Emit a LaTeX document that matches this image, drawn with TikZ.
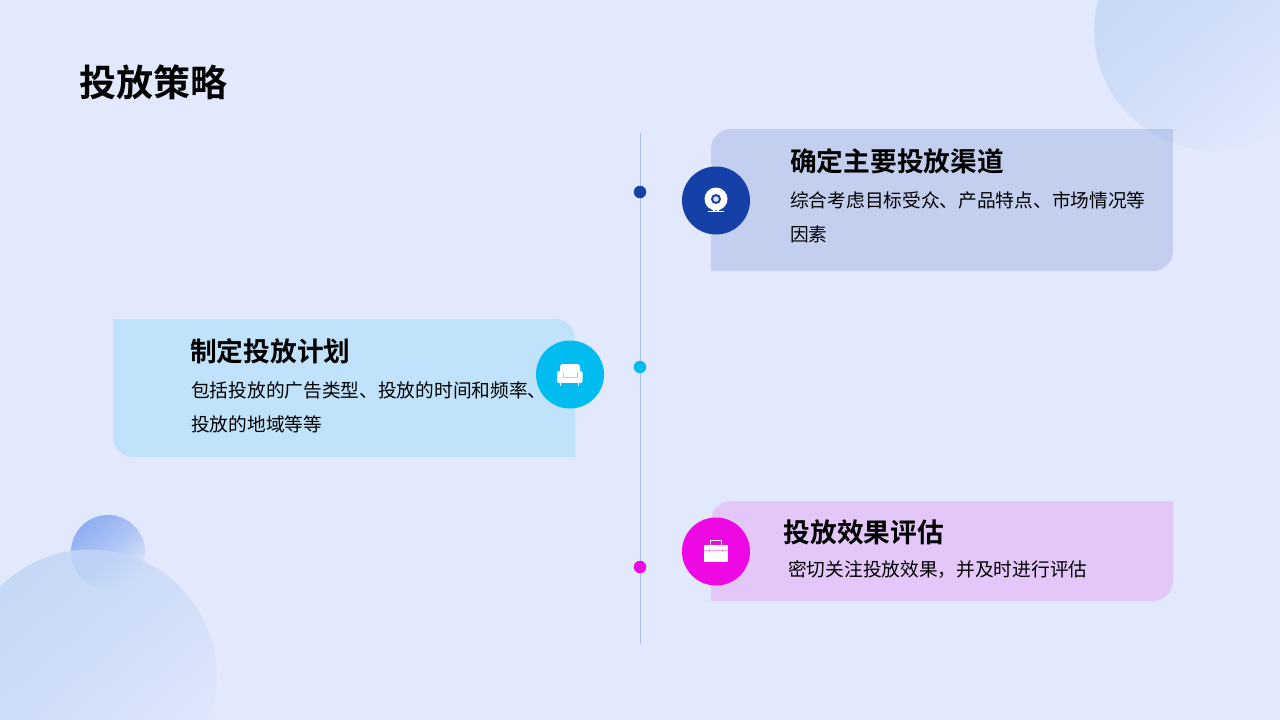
\documentclass[tikz,border=0pt]{standalone}
\usepackage{fontspec}
\setmainfont{Noto Sans CJK SC}[BoldFont={Noto Sans CJK SC Bold}]
\usetikzlibrary{fadings}
\definecolor{bgc}{HTML}{E2E9FC}
\definecolor{blobc}{HTML}{C2D6F6}
\definecolor{smallc}{HTML}{86A8F0}
\definecolor{linec}{HTML}{A9BEEC}
\definecolor{bluec}{HTML}{1540A8}
\definecolor{cyanc}{HTML}{00BCF0}
\definecolor{magc}{HTML}{EE08E4}
\tikzfading[name=diagfade, top color=transparent!10, bottom color=transparent!100, middle color=transparent!45]
\tikzset{
 x=1pt,y=-1pt,
 blob/.style={fill=#1,path fading=diagfade,fit fading=true,fading angle=40},
 card/.style={fill=#1,fill opacity=.15},
 badge/.style={circle,fill=#1,minimum size=68pt,inner sep=0pt,draw=none},
 dotn/.style={circle,fill=#1,minimum size=12.5pt,inner sep=0pt,draw=none},
 titletext/.style={anchor=west,inner sep=0pt,font=\fontsize{37}{37}\selectfont\bfseries,text=black},
 headtext/.style={anchor=west,inner sep=0pt,font=\fontsize{26.7}{26.7}\selectfont\bfseries,text=black},
 bodytext/.style={anchor=west,inner sep=0pt,font=\fontsize{18.7}{18.7}\selectfont,text=black},
}
\begin{document}
\begin{tikzpicture}
\useasboundingbox (0,0) rectangle (1280,720);
\fill[bgc] (0,0) rectangle (1280,720);
% background blobs
\begin{scope}
\clip (0,0) rectangle (1280,720);
\fill[blob=blobc] (1214,30) circle (120);
\fill[blob=smallc] (108,552) circle (37);
\fill[blob=blobc] (90,676) circle (127);
\end{scope}
% cards
\fill[card=bluec] (711,271) -- (711,149) .. controls (711,138) and (720,129) .. (731,129) -- (1173,129) -- (1173,251) .. controls (1173,262) and (1164,271) .. (1153,271) -- cycle;
\fill[card=cyanc] (113,319) -- (555,319) .. controls (566,319) and (575,328) .. (575,339) -- (575,457) -- (133,457) .. controls (122,457) and (113,448) .. (113,437) -- cycle;
\fill[card=magc] (711,601) -- (711,521) .. controls (711,510) and (720,501) .. (731,501) -- (1173,501) -- (1173,581) .. controls (1173,592) and (1164,601) .. (1153,601) -- cycle;
% timeline
\coordinate (lineA) at (640.5,133);
\coordinate (lineB) at (640.5,644);
\draw[linec,line width=1pt] (lineA) -- (lineB);
\node[dotn=bluec] (dotA) at (640,192) {};
\node[dotn=cyanc] (dotB) at (640,367) {};
\node[dotn=magc] (dotC) at (640,567) {};
% badges
\node[badge=bluec] (badgeA) at (716,200.5) {};
\node[badge=cyanc] (badgeB) at (570,374.5) {};
\node[badge=magc] (badgeC) at (716,551.5) {};
% webcam icon
\fill[white] (716,199) circle (11.5);
\fill[bluec] (716,199) circle (5);
\fill[white!85!bluec] (716,199) circle (2.8);
\fill[white] (713,209) rectangle (715,212);
\fill[white] (717,209) rectangle (719,212);
\fill[white] (708,211.2) rectangle (724,212.4);
% sofa icon
\fill[white,rounded corners=2.5] (560,364) rectangle (580,378);
\fill[white,rounded corners=2] (557,371) rectangle (563,383);
\fill[white,rounded corners=2] (577,371) rectangle (582.5,383);
\fill[white] (558,377) rectangle (582,383);
\draw[cyanc!45!white,line width=.8pt] (563,372) -- (563,377) -- (577,377) -- (577,372);
\fill[white] (560,383) rectangle (561,385.5);
\fill[white] (578,383) rectangle (579,385.5);
% briefcase icon
\draw[white,line width=.9pt] (710.5,546) -- (710.5,540.7) -- (721.5,540.7) -- (721.5,546);
\fill[white] (704,545) rectangle (728,561.5);
\draw[magc!40!white,line width=.7pt] (704,550) -- (728,550);
\fill[magc!40!white] (709,549) rectangle (710.2,552);
\fill[magc!40!white] (721.8,549) rectangle (723,552);
% text
\node[titletext] (title) at (79,82) {投放策略};
\node[headtext] (headA) at (790,161) {确定主要投放渠道};
\node[bodytext] (bodyA1) at (790,200.5) {综合考虑目标受众、产品特点、市场情况等};
\node[bodytext] (bodyA2) at (790,234) {因素};
\node[headtext] (headB) at (190,351) {制定投放计划};
\node[bodytext] (bodyB1) at (191,390.5) {包括投放的广告类型、投放的时间和频率、};
\node[bodytext] (bodyB2) at (191,424) {投放的地域等等};
\node[headtext] (headC) at (783.5,532) {投放效果评估};
\node[bodytext] (bodyC1) at (788,570) {密切关注投放效果，并及时进行评估};
\end{tikzpicture}
\end{document}
